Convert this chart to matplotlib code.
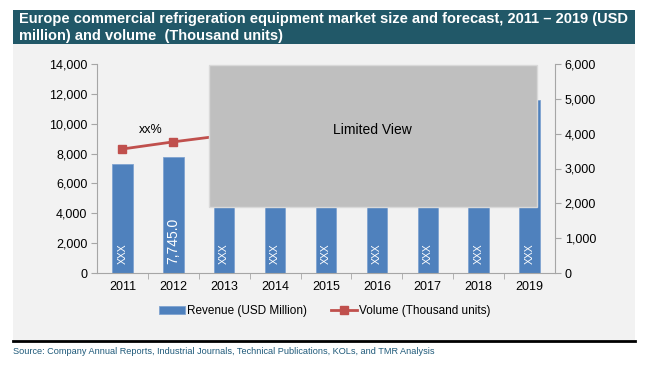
import matplotlib
matplotlib.use('Agg')
import matplotlib.pyplot as plt
import matplotlib.patches as patches
from matplotlib.ticker import FuncFormatter
from matplotlib.lines import Line2D

plt.rcParams['font.family'] = ['Liberation Sans', 'DejaVu Sans']

years = ['2011', '2012', '2013', '2014', '2015', '2016', '2017', '2018', '2019']
revenue = [7280, 7745, 8300, 8850, 9450, 10050, 10700, 11150, 11600]
volume = [3560, 3765, 3950, 4100, 4250, 4400, 4550, 4700, 4850]
bar_labels = ['XXX', '7,745.0', 'XXX', 'XXX', 'XXX', 'XXX', 'XXX', 'XXX', 'XXX']

title = 'Europe commercial refrigeration equipment market size and forecast, 2011 \u2013 2019 (USD\nmillion) and volume  (Thousand units)'
source = 'Source: Company Annual Reports, Industrial Journals, Technical Publications, KOLs, and TMR Analysis'

W, H = 650, 367
fig = plt.figure(figsize=(6.5, 3.67), dpi=100)
fig.patch.set_facecolor('white')

# фон панели и полоса заголовка
fig.patches.append(patches.Rectangle((12.7 / W, 1 - 340 / H), (635 - 12.7) / W, (340 - 44) / H,
                                     transform=fig.transFigure, facecolor='#F2F2F2', edgecolor='none', zorder=-2))
fig.patches.append(patches.Rectangle((12.7 / W, 1 - 44 / H), (635 - 12.7) / W, (44 - 10) / H,
                                     transform=fig.transFigure, facecolor='#215868', edgecolor='none', zorder=-2))
fig.lines.append(Line2D([12.7 / W, 635 / W], [1 - 341 / H, 1 - 341 / H], transform=fig.transFigure,
                        color='black', linewidth=2))
fig.text(19 / W, 1 - 27.5 / H, title, color='white', fontsize=10.5, fontweight='bold',
         va='center', ha='left', linespacing=1.25)
fig.text(12.7 / W, 1 - 351 / H, source, color='#1F5A7A', fontsize=6.6, va='center', ha='left')

ax = fig.add_axes([97 / W, 1 - 273 / H, (555 - 97) / W, (273 - 64) / H])
ax.set_facecolor('none')
x = range(len(years))
ax.bar(x, revenue, width=0.4, color='#4F81BD', edgecolor='#7FA3D0', linewidth=0.6, zorder=2,
       label='Revenue (USD Million)')
for i, lab in enumerate(bar_labels):
    ax.text(i, 580, lab, rotation=90, color='white', fontsize=10 if i == 1 else 7.5,
            ha='center', va='bottom', zorder=3)
ax.set_ylim(0, 14000)
ax.set_xlim(-0.5, len(years) - 0.5)
ax.set_yticks(range(0, 14001, 2000))
ax.yaxis.set_major_formatter(FuncFormatter(lambda v, p: f'{int(v):,}'))
ax.set_xticks(list(x))
ax.set_xticklabels(years)
ax.set_xticks([i + 0.5 for i in range(len(years) - 1)], minor=True)
ax.tick_params(axis='x', which='major', length=0, pad=6, labelsize=9)
ax.tick_params(axis='x', which='minor', length=4, color='#A6A6A6')
ax.tick_params(axis='y', length=4, color='#A6A6A6', labelsize=9, pad=3)
for s in ['top', 'right']:
    ax.spines[s].set_visible(False)
ax.spines['left'].set_color('#A6A6A6')
ax.spines['bottom'].set_color('#A6A6A6')

ax2 = ax.twinx()
ax2.plot(x, volume, color='#C0504D', linewidth=2, marker='s', markersize=6, zorder=4,
         label='Volume (Thousand units)')
ax2.set_ylim(0, 6000)
ax2.set_yticks(range(0, 6001, 1000))
ax2.yaxis.set_major_formatter(FuncFormatter(lambda v, p: f'{int(v):,}'))
ax2.tick_params(axis='y', length=4, color='#A6A6A6', labelsize=9, pad=3)
for s in ['top', 'left', 'bottom']:
    ax2.spines[s].set_visible(False)
ax2.spines['right'].set_color('#A6A6A6')
ax2.text(0.55, 4100, 'xx%', fontsize=9, ha='center', va='center')

# заглушка "Limited View"
fig.patches.append(patches.Rectangle((209 / W, 1 - 207 / H), (537 - 209) / W, (207 - 65) / H,
                                     transform=fig.transFigure, facecolor='#BFBFBF', edgecolor='#D9D9D9',
                                     linewidth=1, zorder=10))
fig.text(372 / W, 1 - 130 / H, 'Limited View', fontsize=10, ha='center', va='center', zorder=11)

h1, l1 = ax.get_legend_handles_labels()
h2, l2 = ax2.get_legend_handles_labels()
fig.legend(h1 + h2, l1 + l2, loc='center', bbox_to_anchor=(325 / W, 1 - 311 / H), ncol=2, frameon=False,
           fontsize=8.5, handlelength=2.2, handletextpad=0.2, columnspacing=2.0)

fig.savefig('out.png', dpi=100)
